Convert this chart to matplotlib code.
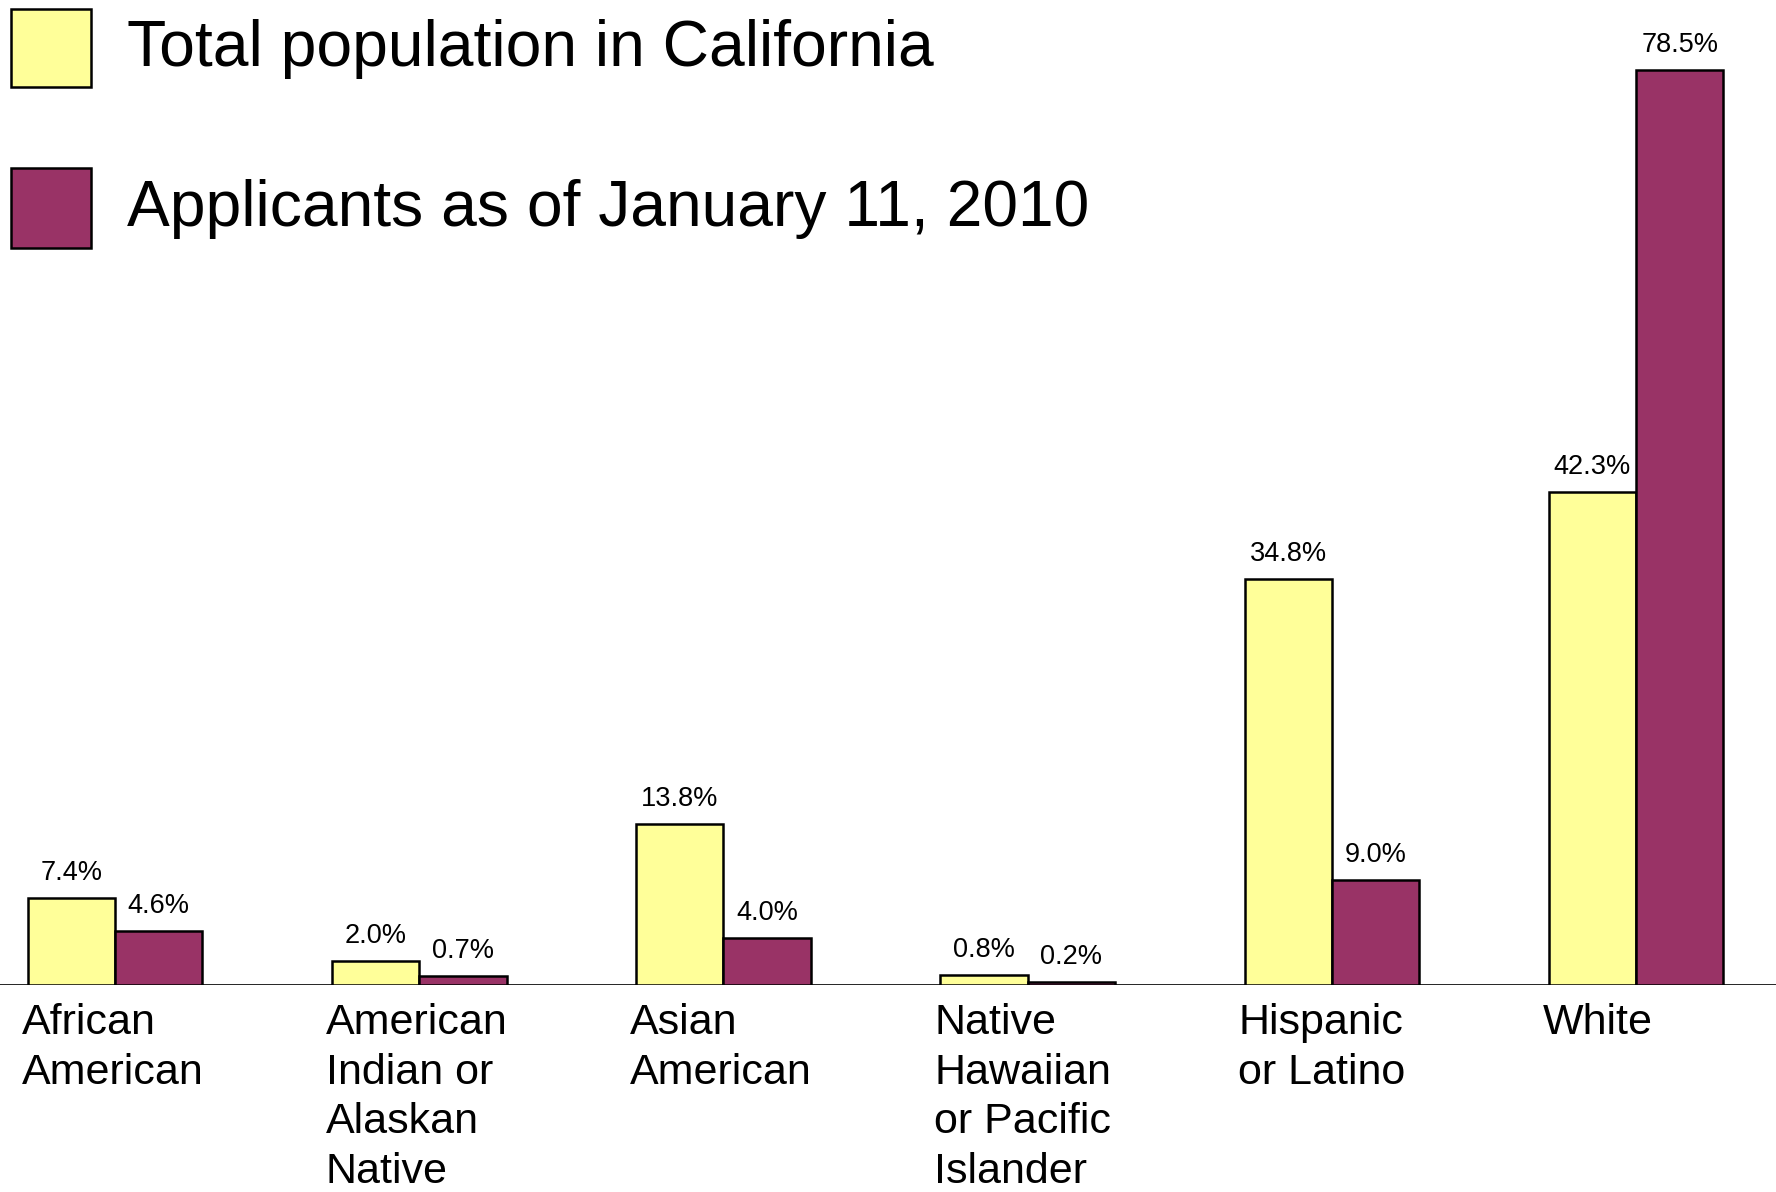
import numpy as np
import matplotlib
matplotlib.use("Agg")
import matplotlib.pyplot as plt
from matplotlib.patches import Rectangle

plt.rcParams['font.family'] = ['Liberation Sans', 'DejaVu Sans']

# data
categories = ["African\nAmerican", "American\nIndian or\nAlaskan\nNative", "Asian\nAmerican",
              "Native\nHawaiian\nor Pacific\nIslander", "Hispanic\nor Latino", "White"]
population = [7.4, 2.0, 13.8, 0.8, 34.8, 42.3]
applicants = [4.6, 0.7, 4.0, 0.2, 9.0, 78.5]
series_names = ["Total population in California", "Applicants as of January 11, 2010"]

yellow = '#FFFF99'
purple = '#993366'

W, H = 1776, 1192
fig = plt.figure(figsize=(W / 100, H / 100), dpi=100)
ax = fig.add_axes([0, 0.174, 1.0, 0.826])

x = np.arange(len(categories))
w = 0.287
b1 = ax.bar(x - w / 2, population, w, color=yellow, edgecolor='black', linewidth=1.8, zorder=3)
b2 = ax.bar(x + w / 2, applicants, w, color=purple, edgecolor='black', linewidth=1.8, zorder=3)

for bars in (b1, b2):
    for r in bars:
        v = r.get_height()
        ax.annotate(f"{v:.1f}%", (r.get_x() + r.get_width() / 2, v), xytext=(0, 13),
                    textcoords='offset points', ha='center', va='baseline', fontsize=19.5)

# category labels, left aligned under the first bar of each group
for xi, lab in zip(x, categories):
    ax.annotate(lab, (xi - w, 0), xytext=(-4.5, -13), textcoords='offset points',
                ha='left', va='top', fontsize=31, linespacing=1.32, annotation_clip=False)

ax.axhline(0, color='black', lw=1.2, zorder=2)
ax.set_xlim(-0.378, 5.46)
ax.set_ylim(0, 84.5)
ax.axis('off')

# legend drawn by hand to sit like the original
for (y0, y1), col, name, base in zip([(9, 87), (168, 248)], [yellow, purple], series_names, [66, 226]):
    fig.add_artist(Rectangle((11 / W, 1 - y1 / H), 80 / W, (y1 - y0) / H, transform=fig.transFigure,
                             facecolor=col, edgecolor='black', linewidth=1.8))
    fig.text(127 / W, 1 - base / H, name, fontsize=46.2, va='baseline', ha='left')

fig.savefig("out.png", dpi=100)
